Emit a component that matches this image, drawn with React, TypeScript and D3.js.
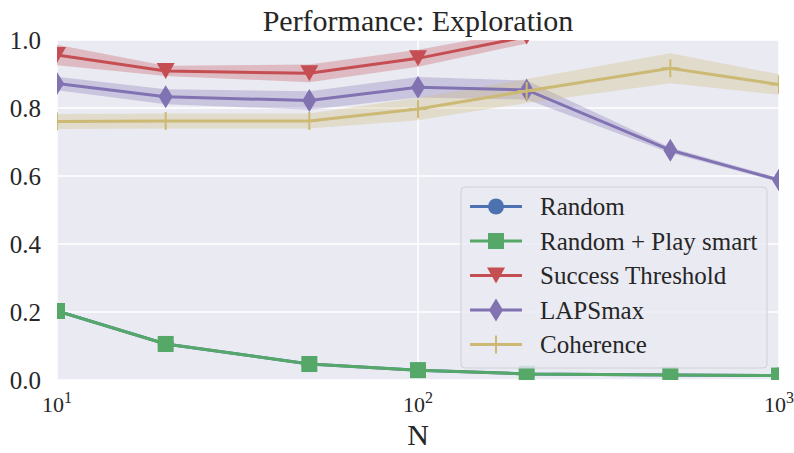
import React from "react";
import * as d3 from "d3";

const N = [10, 20, 50, 100, 200, 500, 1000];
const randomMean = [0.203, 0.106, 0.047, 0.029, 0.018, 0.015, 0.013];
const randomErr = [0.004, 0.003, 0.002, 0.002, 0.001, 0.001, 0.001];
const playSmartMean = [0.203, 0.106, 0.047, 0.029, 0.018, 0.015, 0.013];
const playSmartErr = [0.004, 0.003, 0.002, 0.002, 0.001, 0.001, 0.001];
const successMean = [0.956, 0.909, 0.902, 0.946, 1.01, null, null];
const successErr = [0.03, 0.015, 0.026, 0.025, 0.02, null, null];
const lapsMean = [0.872, 0.833, 0.822, 0.861, 0.853, 0.676, 0.588];
const lapsErr = [0.02, 0.022, 0.027, 0.03, 0.028, 0.008, 0.006];
const coherenceMean = [0.76, 0.762, 0.762, 0.797, 0.85, 0.917, 0.869];
const coherenceErr = [0.022, 0.022, 0.022, 0.033, 0.035, 0.044, 0.03];

const seriesNames = ["Random", "Random + Play smart", "Success Threshold", "LAPSmax", "Coherence"];
const seriesColors = ["#4C72B0", "#55A868", "#C44E52", "#8172B2", "#CCB974"];
const seriesMarkers = ["circle", "square", "triangle", "diamond", "plus"];
const yTicks = [0, 0.2, 0.4, 0.6, 0.8, 1.0];
const xTicks = [10, 100, 1000];
const xTickExp = ["1", "2", "3"];

const W = 794, H = 453;
const L = 57, R = 779, T = 40, B = 380;
const FONT = "'Liberation Serif', 'Times New Roman', serif";

function Marker({ kind, x, y, color }: { kind: string; x: number; y: number; color: string }) {
  if (kind === "circle") return <circle cx={x} cy={y} r={8} fill={color} />;
  if (kind === "square") return <rect x={x - 8} y={y - 8} width={16} height={16} fill={color} />;
  if (kind === "triangle")
    return <path d={`M${x - 9},${y - 8}L${x + 9},${y - 8}L${x},${y + 8}Z`} fill={color} />;
  if (kind === "diamond")
    return <path d={`M${x},${y - 11.5}L${x + 7},${y}L${x},${y + 11.5}L${x - 7},${y}Z`} fill={color} />;
  return (
    <path d={`M${x - 9},${y}L${x + 9},${y}M${x},${y - 9}L${x},${y + 9}`} stroke={color} strokeWidth={2} fill="none" />
  );
}

export default function App() {
  const x = d3.scaleLog().domain([10, 1000]).range([L, R]);
  const y = d3.scaleLinear().domain([0, 1]).range([B, T]);

  const means = [randomMean, playSmartMean, successMean, lapsMean, coherenceMean];
  const errs = [randomErr, playSmartErr, successErr, lapsErr, coherenceErr];

  type P = { n: number; m: number | null; e: number | null };
  const line = d3
    .line<P>()
    .defined((d) => d.m != null)
    .x((d) => x(d.n))
    .y((d) => y(d.m as number));
  const area = d3
    .area<P>()
    .defined((d) => d.m != null)
    .x((d) => x(d.n))
    .y0((d) => y((d.m as number) - (d.e as number)))
    .y1((d) => y((d.m as number) + (d.e as number)));

  const series = means.map((m, i) => N.map((n, j) => ({ n, m: m[j], e: errs[i][j] })));

  const legX = 461, legY = 187, legW = 306, legH = 181;
  const rowY0 = 206.5, rowStep = 34.5;

  return (
    <svg width={W} height={H} style={{ position: "absolute", left: 0, top: 0 }} fontFamily={FONT}>
      <rect x={0} y={0} width={W} height={H} fill="#fff" />
      <defs>
        <clipPath id="plot">
          <rect x={L} y={T} width={R - L} height={B - T} />
        </clipPath>
      </defs>
      <rect x={L} y={T} width={R - L} height={B - T} fill="#EAEAF2" />
      {yTicks.map((t) => (
        <line key={t} x1={L} x2={R} y1={y(t)} y2={y(t)} stroke="#fff" strokeWidth={1.5} />
      ))}
      {xTicks.map((t) => (
        <line key={t} x1={x(t)} x2={x(t)} y1={T} y2={B} stroke="#fff" strokeWidth={1.5} />
      ))}
      <g clipPath="url(#plot)">
        {series.map((s, i) => (
          <path key={"a" + i} d={area(s) || ""} fill={seriesColors[i]} fillOpacity={0.3} stroke="none" />
        ))}
        {series.map((s, i) => (
          <g key={"l" + i}>
            <path d={line(s) || ""} fill="none" stroke={seriesColors[i]} strokeWidth={3} />
            {s
              .filter((d) => d.m != null)
              .map((d, j) => (
                <Marker key={j} kind={seriesMarkers[i]} x={x(d.n)} y={y(d.m as number)} color={seriesColors[i]} />
              ))}
          </g>
        ))}
      </g>
      {yTicks.map((t) => (
        <text key={t} x={41} y={y(t) + 8.5} textAnchor="end" fontSize={25} fill="#262626">
          {t.toFixed(1)}
        </text>
      ))}
      {xTicks.map((t, i) => (
        <text key={t} x={x(t)} y={412} textAnchor="middle" fontSize={22} fill="#262626">
          10
          <tspan dy={-9} fontSize={16}>
            {xTickExp[i]}
          </tspan>
        </text>
      ))}
      <text x={(L + R) / 2} y={445} textAnchor="middle" fontSize={30} fill="#262626">
        N
      </text>
      <text x={(L + R) / 2} y={31} textAnchor="middle" fontSize={30} fill="#262626">
        Performance: Exploration
      </text>
      <g>
        <rect x={legX} y={legY} width={legW} height={legH} rx={4} fill="#EAEAF2" fillOpacity={0.8} stroke="#d0d0d6" strokeWidth={1} />
        {seriesNames.map((name, i) => {
          const ry = rowY0 + i * rowStep;
          return (
            <g key={name}>
              <line x1={470} x2={522} y1={ry} y2={ry} stroke={seriesColors[i]} strokeWidth={3} />
              <Marker kind={seriesMarkers[i]} x={496} y={ry} color={seriesColors[i]} />
              <text x={540} y={ry + 8.5} fontSize={25} fill="#262626">
                {name}
              </text>
            </g>
          );
        })}
      </g>
    </svg>
  );
}
